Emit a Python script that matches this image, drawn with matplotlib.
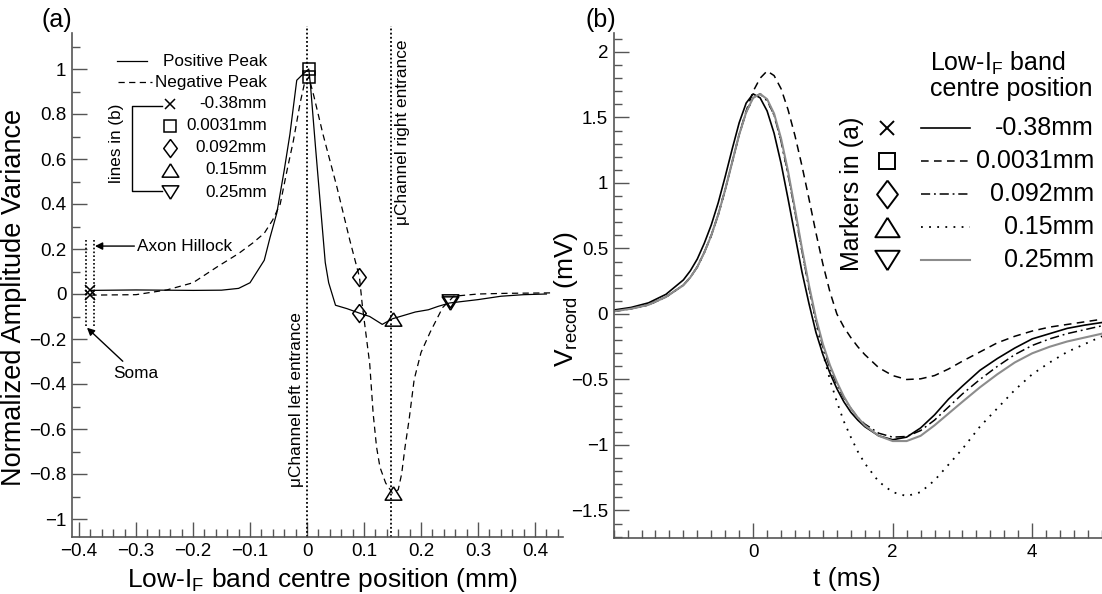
import matplotlib.pyplot as plt
from matplotlib.lines import Line2D
from matplotlib.ticker import MultipleLocator, FixedLocator, FuncFormatter

plt.rcParams['font.family'] = ['Liberation Sans', 'DejaVu Sans']
plt.rcParams['mathtext.fontset'] = 'custom'
plt.rcParams['mathtext.rm'] = 'Liberation Sans'

# ---- panel (a): normalized amplitude variance vs band centre position ----
pos_x = [-0.38, -0.3, -0.2, -0.15, -0.12, -0.1, -0.09, -0.08, -0.075, -0.065,
         -0.053, -0.04, -0.03, -0.018, -0.008, 0.0031, 0.006, 0.015, 0.024,
         0.032, 0.038, 0.044, 0.05, 0.07, 0.092, 0.11, 0.132, 0.15, 0.17,
         0.19, 0.213, 0.23, 0.25, 0.3, 0.34, 0.38, 0.42]
pos_peak = [0.016, 0.018, 0.016, 0.017, 0.025, 0.05, 0.09, 0.13, 0.15, 0.25,
            0.36, 0.55, 0.71, 0.95, 0.975, 1.0, 0.93, 0.65, 0.38,
            0.14, 0.05, 0.0, -0.05, -0.065, -0.085, -0.10, -0.135, -0.11, -0.095,
            -0.08, -0.07, -0.055, -0.04, -0.025, -0.01, -0.003, 0.0]

neg_x = [-0.38, -0.3, -0.246, -0.2, -0.158, -0.12, -0.095, -0.075, -0.06,
         -0.047, -0.035, -0.024, -0.012, -0.005, 0.0031, 0.012, 0.028, 0.052,
         0.075, 0.092, 0.097, 0.102, 0.11, 0.116, 0.122, 0.128, 0.138, 0.15,
         0.16, 0.166, 0.172, 0.179, 0.188, 0.2, 0.216, 0.238, 0.25, 0.257,
         0.3, 0.35, 0.43]
neg_peak = [-0.005, -0.003, 0.018, 0.05, 0.12, 0.18, 0.227, 0.27, 0.33,
            0.40, 0.55, 0.68, 0.85, 0.93, 0.965, 0.88, 0.71, 0.48,
            0.24, 0.075, -0.05, -0.15, -0.31, -0.53, -0.68, -0.77, -0.84, -0.885,
            -0.87, -0.80, -0.68, -0.56, -0.38, -0.26, -0.17, -0.06, -0.03, -0.01,
            0.0, 0.003, 0.005]

mark_x = [-0.38, 0.0031, 0.092, 0.15, 0.25]
mark_pos = [0.016, 1.0, -0.085, -0.11, -0.04]
mark_neg = [-0.005, 0.965, 0.075, -0.885, -0.03]
mark_labels = ['-0.38mm', '0.0031mm', '0.092mm', '0.15mm', '0.25mm']

# ---- panel (b): recorded voltage traces ----
t_ms = [-2, -1.75, -1.5, -1.25, -1.0, -0.9, -0.8, -0.7, -0.6, -0.5, -0.4, -0.3,
        -0.2, -0.1, 0, 0.1, 0.2, 0.3, 0.4, 0.5, 0.6, 0.7, 0.8, 0.9, 1.0, 1.1,
        1.2, 1.3, 1.4, 1.5, 1.6, 1.8, 2.0, 2.2, 2.4, 2.6, 2.8, 3.0, 3.25, 3.5,
        3.75, 4.0, 4.25, 4.5, 4.75, 5.0]
v_m038 = [0.03, 0.05, 0.085, 0.15, 0.26, 0.33, 0.42, 0.54, 0.68, 0.85, 1.05, 1.26,
          1.46, 1.61, 1.68, 1.65, 1.55, 1.38, 1.15, 0.88, 0.60, 0.32, 0.08, -0.14,
          -0.31, -0.45, -0.57, -0.67, -0.75, -0.81, -0.86, -0.93, -0.96, -0.94,
          -0.87, -0.77, -0.65, -0.55, -0.43, -0.34, -0.26, -0.19, -0.15, -0.11,
          -0.085, -0.065]
v_0031 = [0.02, 0.04, 0.07, 0.13, 0.22, 0.28, 0.36, 0.47, 0.60, 0.76, 0.95, 1.16,
          1.37, 1.55, 1.70, 1.80, 1.855, 1.82, 1.72, 1.56, 1.36, 1.13, 0.88, 0.62,
          0.38, 0.17, 0.0, -0.10, -0.18, -0.25, -0.31, -0.41, -0.47, -0.50,
          -0.495, -0.47, -0.42, -0.36, -0.29, -0.22, -0.17, -0.13, -0.10, -0.08,
          -0.06, -0.04]
v_092 = [0.02, 0.04, 0.07, 0.13, 0.22, 0.28, 0.36, 0.47, 0.60, 0.76, 0.95, 1.16,
         1.37, 1.54, 1.65, 1.68, 1.63, 1.52, 1.32, 1.07, 0.78, 0.48, 0.20, -0.05,
         -0.25, -0.41, -0.54, -0.64, -0.72, -0.79, -0.84, -0.91, -0.94, -0.935,
         -0.89, -0.81, -0.71, -0.61, -0.50, -0.40, -0.31, -0.24, -0.19, -0.15,
         -0.12, -0.09]
v_015 = [0.02, 0.04, 0.07, 0.13, 0.22, 0.28, 0.36, 0.47, 0.60, 0.76, 0.95, 1.16,
         1.37, 1.54, 1.65, 1.68, 1.63, 1.52, 1.32, 1.07, 0.78, 0.48, 0.20, -0.06,
         -0.30, -0.50, -0.67, -0.82, -0.94, -1.05, -1.14, -1.28, -1.36, -1.39,
         -1.36, -1.27, -1.15, -1.03, -0.86, -0.72, -0.58, -0.46, -0.37, -0.29,
         -0.23, -0.17]
v_025 = [0.02, 0.04, 0.07, 0.13, 0.22, 0.28, 0.36, 0.47, 0.60, 0.76, 0.95, 1.16,
         1.37, 1.54, 1.65, 1.68, 1.64, 1.53, 1.34, 1.09, 0.80, 0.50, 0.22, -0.03,
         -0.23, -0.39, -0.52, -0.63, -0.72, -0.79, -0.85, -0.93, -0.97, -0.97,
         -0.93, -0.85, -0.76, -0.67, -0.56, -0.46, -0.37, -0.30, -0.25, -0.21,
         -0.18, -0.15]

W, H = 1102, 594
SPINE = '#555555'
DIAMOND = [(0, 1), (0.75, 0), (0, -1), (-0.75, 0), (0, 1)]
TRI_UP = [(0, 0.8), (1, -0.8), (-1, -0.8), (0, 0.8)]
TRI_DN = [(0, -0.8), (1, 0.8), (-1, 0.8), (0, -0.8)]
markers = ['x', 's', DIAMOND, TRI_UP, TRI_DN]
ms_a = [7.5, 8.5, 13, 12, 12]
ms_b = [10, 11.5, 20, 17.5, 17.5]
styles_b = [dict(color='black', ls='-', lw=1.2),
            dict(color='black', ls=(0, (5, 3.5)), lw=1.1),
            dict(color='black', ls=(0, (6, 2.5, 1.2, 2.5)), lw=1.1),
            dict(color='black', ls=(0, (1, 3.5)), lw=1.3),
            dict(color='#8c8c8c', ls='-', lw=1.5)]


def fx(x):
    return x / W


def fy(y):
    return 1 - y / H


def num(v, _):
    if abs(v) < 1e-9:
        return '0'
    return ('%g' % round(v, 6)).replace('-', '\u2212')


def style_axes(ax):
    for s in ('top', 'right'):
        ax.spines[s].set_visible(False)
    for s in ('left', 'bottom'):
        ax.spines[s].set_color(SPINE)
        ax.spines[s].set_linewidth(1.2)
    ax.tick_params(which='both', direction='in', color=SPINE, width=1.0,
                   labelsize=13.5, pad=4)
    ax.tick_params(which='major', length=10.5)
    ax.tick_params(which='minor', length=5.5)
    ax.xaxis.set_major_formatter(FuncFormatter(num))
    ax.yaxis.set_major_formatter(FuncFormatter(num))


fig = plt.figure(figsize=(W / 100, H / 100), dpi=100)

# ---------------- (a) ----------------
ax1 = fig.add_axes([fx(72), fy(537), fx(563 - 72), (537 - 33) / H])
ax1.plot(pos_x, pos_peak, color='black', lw=0.9)
ax1.plot(neg_x, neg_peak, color='black', lw=0.9, ls=(0, (5, 3.5)))
for mx, mp, mn, mk, ms in zip(mark_x, mark_pos, mark_neg, markers, ms_a):
    ax1.plot([mx, mx], [mp, mn], ls='none', marker=mk, ms=ms, mfc='none',
             mec='black', mew=1.1)

ax1.set_xlim(-0.4123, 0.4491)
ax1.set_ylim(-1.08, 1.16)
ax1.xaxis.set_major_locator(MultipleLocator(0.1))
ax1.xaxis.set_minor_locator(MultipleLocator(0.02))
ax1.yaxis.set_major_locator(FixedLocator([-1, -0.8, -0.6, -0.4, -0.2, 0, 0.2, 0.4, 0.6, 0.8, 1]))
ax1.yaxis.set_minor_locator(MultipleLocator(0.1))
style_axes(ax1)
ax1.set_xlabel(r'Low-I$_\mathregular{F}$ band centre position (mm)', fontsize=19)
ax1.set_ylabel('Normalized Amplitude Variance', fontsize=19.5)
ax1.xaxis.set_label_coords(0.511, -0.058)
ax1.yaxis.set_label_coords(-0.092, 0.476)

# channel entrances
dot = (0, (1, 1.3))
for xe in (0.0, 0.148):
    ax1.plot([xe, xe], [-1.08, 1.19], color='black', lw=1.3, ls=dot, clip_on=False)
ax1.text(-0.019, -0.47, '\u03bcChannel left entrance', rotation=90,
         ha='center', va='center', fontsize=12.4)
ax1.text(0.168, 0.72, '\u03bcChannel right entrance', rotation=90,
         ha='center', va='center', fontsize=12.4)

# soma / axon hillock markers
for xs in (-0.388, -0.374):
    ax1.plot([xs, xs], [-0.14, 0.245], color='black', lw=1.2, ls=dot)
ax1.annotate('Axon Hillock', xy=(-0.372, 0.213), xytext=(-0.298, 0.213),
             fontsize=12.4, va='center', ha='left',
             arrowprops=dict(arrowstyle='-|>', color='black', lw=1.0,
                             shrinkA=0, shrinkB=0, mutation_scale=11))
ax1.annotate('Soma', xy=(-0.386, -0.15), xytext=(-0.34, -0.353),
             fontsize=12.4, va='center', ha='left',
             arrowprops=dict(arrowstyle='-|>', color='black', lw=1.0,
                             shrinkA=2, shrinkB=0, mutation_scale=11))

# legend of (a)
fig.add_artist(Line2D([fx(117), fx(147)], [fy(61), fy(61)], color='black', lw=0.9))
fig.text(fx(267), fy(61), 'Positive Peak', ha='right', va='center', fontsize=12.3)
fig.add_artist(Line2D([fx(118), fx(152)], [fy(82), fy(82)], color='black', lw=0.9,
                      ls=(0, (5, 3.5))))
fig.text(fx(267), fy(82), 'Negative Peak', ha='right', va='center', fontsize=12.3)
rows_a = [104, 126, 148, 170, 192]
for yy, mk, ms, lab in zip(rows_a, markers, ms_a, mark_labels):
    fig.add_artist(Line2D([fx(170)], [fy(yy)], ls='none', marker=mk, ms=ms,
                          mfc='none', mec='black', mew=1.1))
    fig.text(fx(267), fy(yy), lab, ha='right', va='center', fontsize=12.3)
fig.add_artist(Line2D([fx(162), fx(132), fx(132), fx(162)],
                      [fy(106), fy(106), fy(191), fy(191)], color='black', lw=1.0))
fig.text(fx(117), fy(143), 'lines in (b)', rotation=90, ha='center', va='center',
         fontsize=12.3)
fig.text(fx(57), fy(20), '(a)', ha='center', va='center', fontsize=18)

# ---------------- (b) ----------------
ax2 = fig.add_axes([fx(613.6), fy(538), fx(W - 613.6), (538 - 33) / H])
for v, st in zip([v_m038, v_0031, v_092, v_015, v_025], styles_b):
    ax2.plot(t_ms, v, **st)
ax2.set_xlim(-2, 5)
ax2.set_ylim(-1.71, 2.145)
ax2.xaxis.set_major_locator(FixedLocator([0, 2, 4]))
ax2.xaxis.set_minor_locator(MultipleLocator(0.2))
ax2.yaxis.set_major_locator(MultipleLocator(0.5))
ax2.yaxis.set_minor_locator(MultipleLocator(0.1))
style_axes(ax2)
ax2.set_xlabel('t (ms)', fontsize=19)
ax2.set_ylabel(r'V$_\mathregular{record}$ (mV)', fontsize=19)
ax2.xaxis.set_label_coords(0.478, -0.058)
ax2.yaxis.set_label_coords(-0.069, 0.473)

# legend of (b)
fig.text(fx(930), fy(63), r'Low-I$_\mathregular{F}$ band', ha='left', va='center',
         fontsize=18)
fig.text(fx(930), fy(89), 'centre position', ha='left', va='center', fontsize=18)
rows_b = [128, 161, 194, 227, 260]
for yy, mk, ms, st, lab in zip(rows_b, markers, ms_b, styles_b, mark_labels):
    fig.add_artist(Line2D([fx(887)], [fy(yy)], ls='none', marker=mk, ms=ms,
                          mfc='none', mec='black', mew=1.4))
    fig.add_artist(Line2D([fx(921), fx(970)], [fy(yy), fy(yy)], **st))
    fig.text(fx(1094), fy(yy), lab, ha='right', va='center', fontsize=18)
fig.text(fx(852), fy(194), 'Markers in (a)', rotation=90, ha='center', va='center',
         fontsize=18)
fig.text(fx(601), fy(20), '(b)', ha='center', va='center', fontsize=18)

fig.savefig('out.png', dpi=100)
